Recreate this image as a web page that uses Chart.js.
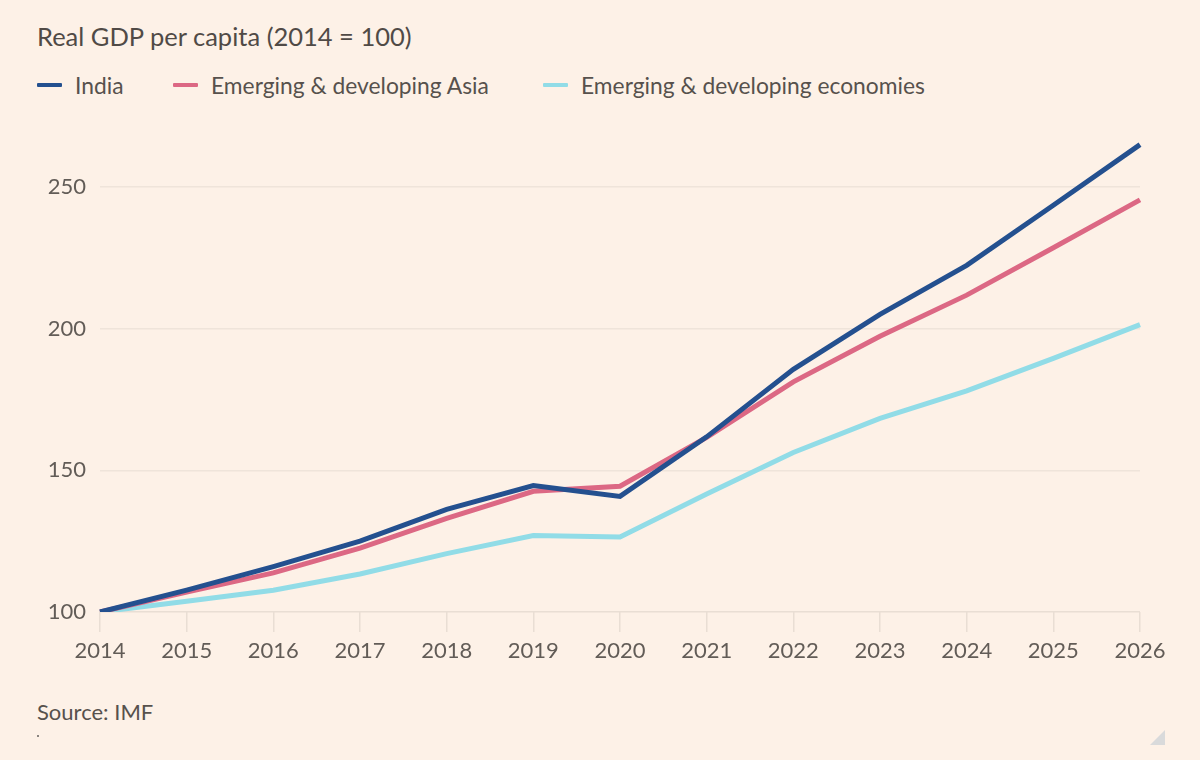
<!DOCTYPE html>
<html>
<head>
<meta charset="utf-8">
<script src="https://cdn.jsdelivr.net/npm/chart.js@4"></script>
<style>
    html, body { margin: 0; padding: 0; }
    body {
        width: 1200px;
        height: 760px;
        background: #fdf1e7;
        position: relative;
        overflow: hidden;
        font-family: 'Lato', 'Open Sans', sans-serif;
        color: #57514d;
    }
    .title {
        position: absolute;
        left: 37px;
        top: 20px;
        font-size: 25.5px;
        line-height: 32px;
        color: #504a46;
    }
    .legend .item {
        position: absolute;
        top: 70px;
        height: 30px;
        display: flex;
        align-items: center;
        font-size: 22.8px;
        color: #57514d;
        white-space: nowrap;
    }
    .legend .swatch { width: 25px; height: 4px; margin-right: 13px; border-radius: 1px; }
    .chart-wrap {
        position: absolute;
        left: 0;
        top: 103px;
        width: 1200px;
        height: 577px;
    }
    .source {
        position: absolute;
        left: 37px;
        top: 698px;
        font-size: 22px;
        color: #57514d;
    }
    .dot {
        position: absolute;
        left: 37px;
        top: 735px;
        width: 2px;
        height: 2px;
        background: #8a847f;
    }
    .corner {
        position: absolute;
        left: 1150px;
        top: 730px;
        width: 0;
        height: 0;
        border-left: 15px solid transparent;
        border-bottom: 15px solid #d9dadb;
    }
</style>
</head>
<body>
<div class="title">Real GDP per capita (2014 = 100)</div>
<div class="legend" id="legend"></div>
<div class="chart-wrap"><canvas id="gdpChart"></canvas></div>
<div class="source">Source: IMF</div>
<div class="dot"></div>
<div class="corner"></div>

<script>
// --- Data ---
const years = ['2014', '2015', '2016', '2017', '2018', '2019', '2020', '2021', '2022', '2023', '2024', '2025', '2026'];
const india = [100, 107.7, 116.0, 125.0, 136.2, 144.6, 140.8, 161.8, 185.6, 205.0, 222.3, 243.5, 264.9];
const emergingAsia = [100, 107.0, 113.8, 122.5, 133.0, 142.6, 144.4, 161.6, 181.2, 197.3, 211.8, 228.5, 245.4];
const emergingEconomies = [100, 103.8, 107.7, 113.4, 120.6, 127.0, 126.5, 141.6, 156.3, 168.3, 178.0, 189.5, 201.4];
const yTicks = [100, 150, 200, 250];

const seriesNames = ['India', 'Emerging & developing Asia', 'Emerging & developing economies'];
const seriesColors = ['#24508f', '#dc6884', '#91dce7'];
const legendLeft = [37, 173, 543];

// --- Legend (HTML, FT style) ---
const legend = document.getElementById('legend');
seriesNames.forEach((name, i) => {
    const item = document.createElement('div');
    item.className = 'item';
    item.style.left = legendLeft[i] + 'px';
    item.innerHTML = `<span class="swatch" style="background:${seriesColors[i]}"></span><span>${name}</span>`;
    legend.appendChild(item);
});

// --- Chart ---
const tickFont = { family: 'Lato', size: 22 };
const gridColor = '#efe4da';

const ctx = document.getElementById('gdpChart').getContext('2d');
new Chart(ctx, {
    type: 'line',
    data: {
        labels: years,
        datasets: [
            // draw order: light blue at the back, India on top
            {
                label: seriesNames[2],
                data: emergingEconomies,
                borderColor: seriesColors[2],
                borderWidth: 5,
                pointRadius: 0,
                tension: 0,
                order: 3
            },
            {
                label: seriesNames[1],
                data: emergingAsia,
                borderColor: seriesColors[1],
                borderWidth: 5,
                pointRadius: 0,
                tension: 0,
                order: 2
            },
            {
                label: seriesNames[0],
                data: india,
                borderColor: seriesColors[0],
                borderWidth: 5,
                pointRadius: 0,
                tension: 0,
                order: 1
            }
        ]
    },
    options: {
        responsive: true,
        maintainAspectRatio: false,
        animation: false,
        layout: { padding: { top: 8, right: 60, left: 0, bottom: 0 } },
        plugins: {
            legend: { display: false },
            tooltip: { enabled: false }
        },
        scales: {
            x: {
                offset: false,
                grid: {
                    drawOnChartArea: false,
                    drawTicks: true,
                    tickLength: 20,
                    tickColor: '#e9ded4',
                    lineWidth: 1.5
                },
                border: { display: false },
                ticks: {
                    color: '#625c57',
                    font: tickFont,
                    padding: 6,
                    maxRotation: 0,
                    autoSkip: false
                },
                afterFit: (axis) => { axis.height = 68; }
            },
            y: {
                min: 100,
                max: 270,
                afterBuildTicks: (axis) => {
                    axis.ticks = yTicks.map(v => ({ value: v }));
                },
                grid: {
                    color: (c) => c.tick && c.tick.value === 100 ? '#e9ded4' : gridColor,
                    lineWidth: 1.5,
                    drawTicks: false
                },
                border: { display: false },
                ticks: {
                    color: '#625c57',
                    font: tickFont,
                    padding: 14
                },
                afterFit: (axis) => { axis.width = 100; }
            }
        }
    }
});
</script>
</body>
</html>
